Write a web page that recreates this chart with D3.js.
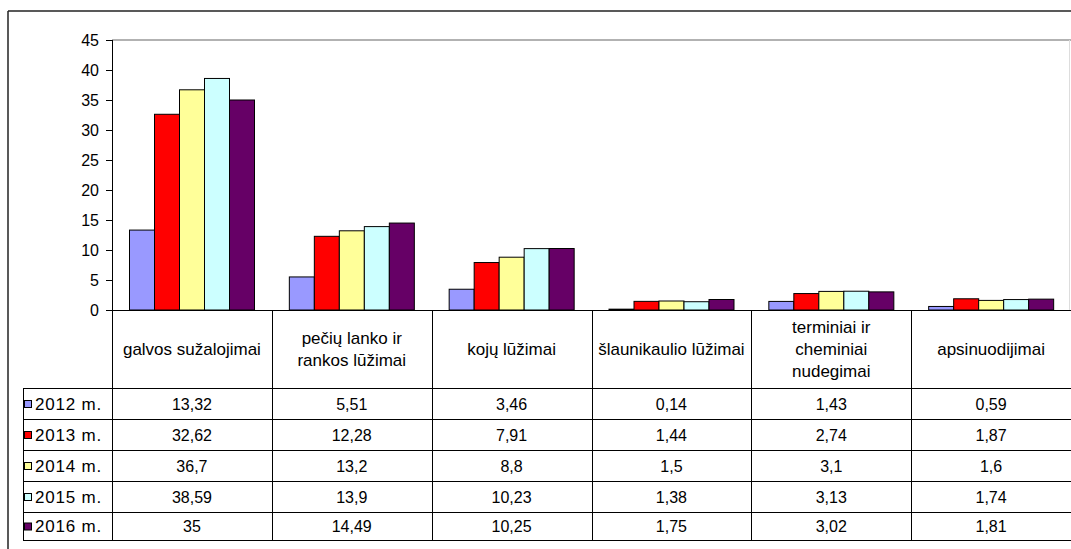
<!DOCTYPE html>
<html>
<head>
<meta charset="utf-8">
<script src="https://cdn.jsdelivr.net/npm/d3@7"></script>
<style>
  html, body { margin: 0; padding: 0; background: #fff; }
  svg { display: block; }
  text { font-family: "Liberation Sans", Arial, sans-serif; fill: #000; }
</style>
</head>
<body>
<svg id="chart" width="1071" height="549"></svg>
<script>
// ---- data ----
const categories = [
  "galvos sužalojimai",
  "pečių lanko ir rankos lūžimai",
  "kojų lūžimai",
  "šlaunikaulio lūžimai",
  "terminiai ir cheminiai nudegimai",
  "apsinuodijimai"
];
const categoryLines = [
  ["galvos sužalojimai"],
  ["pečių lanko ir", "rankos lūžimai"],
  ["kojų lūžimai"],
  ["šlaunikaulio lūžimai"],
  ["terminiai ir", "cheminiai", "nudegimai"],
  ["apsinuodijimai"]
];
const years = ["2012 m.", "2013 m.", "2014 m.", "2015 m.", "2016 m."];
const values2012 = [13.32, 5.51, 3.46, 0.14, 1.43, 0.59];
const values2013 = [32.62, 12.28, 7.91, 1.44, 2.74, 1.87];
const values2014 = [36.7, 13.2, 8.8, 1.5, 3.1, 1.6];
const values2015 = [38.59, 13.9, 10.23, 1.38, 3.13, 1.74];
const values2016 = [35, 14.49, 10.25, 1.75, 3.02, 1.81];
const seriesValues = [values2012, values2013, values2014, values2015, values2016];
const colors = ["#9999FF", "#FF0000", "#FFFF99", "#CCFFFF", "#660066"];
const yTicks = [0, 5, 10, 15, 20, 25, 30, 35, 40, 45];

// ---- layout ----
const svg = d3.select("#chart");
const plotLeft = 112, plotRight = 1071, plotTop = 40, plotBottom = 310;
const tableLeft = 23;
const headerBottom = 388;
const rowLines = [388, 419, 450, 481, 512, 540];

const x = d3.scaleBand().domain(d3.range(categories.length)).range([plotLeft, plotRight]).paddingInner(0).paddingOuter(0);
const xs = d3.scaleBand().domain(d3.range(years.length)).range([17, 142]).padding(0);
const y = d3.scaleLinear().domain([0, 45]).range([plotBottom, plotTop]);

// outer frame
svg.append("line").attr("x1", 8).attr("x2", 1071).attr("y1", 11).attr("y2", 11)
  .attr("stroke", "#222").attr("stroke-width", 1.5);
svg.append("line").attr("x1", 8).attr("x2", 8).attr("y1", 11).attr("y2", 549)
  .attr("stroke", "#222").attr("stroke-width", 1.5);

// plot area border
svg.append("line").attr("x1", plotLeft).attr("x2", plotRight).attr("y1", plotTop).attr("y2", plotTop)
  .attr("stroke", "#999").attr("stroke-width", 1.5);
svg.append("line").attr("x1", 1069.5).attr("x2", 1069.5).attr("y1", plotTop).attr("y2", plotBottom)
  .attr("stroke", "#ddd").attr("stroke-width", 1);

// y axis
const yAxis = d3.axisLeft(y).tickValues(yTicks).tickSize(6).tickPadding(7).tickFormat(d3.format("d"));
const ga = svg.append("g").attr("transform", `translate(${plotLeft},0)`).call(yAxis);
ga.select(".domain").remove();
ga.selectAll(".tick line").attr("stroke", "#000");
ga.selectAll(".tick text").attr("font-size", 16).attr("font-family", '"Liberation Sans", Arial, sans-serif').attr("fill", "#000");
svg.append("line").attr("x1", plotLeft + 0.5).attr("x2", plotLeft + 0.5).attr("y1", plotTop).attr("y2", rowLines[rowLines.length - 1])
  .attr("stroke", "#000");

// bars
const groups = svg.append("g").selectAll("g").data(seriesValues).join("g")
  .attr("fill", (d, i) => colors[i]);
groups.each(function(vals, si) {
  d3.select(this).selectAll("rect").data(vals).join("rect")
    .attr("x", (d, ci) => x(ci) + xs(si) + 0.5)
    .attr("width", xs.bandwidth())
    .attr("y", d => y(d))
    .attr("height", d => y(0) - y(d))
    .attr("stroke", "#000").attr("stroke-width", 1);
});

// zero line
svg.append("line").attr("x1", plotLeft - 6).attr("x2", plotRight).attr("y1", plotBottom + 0.5).attr("y2", plotBottom + 0.5)
  .attr("stroke", "#000");

// table grid
const tbl = svg.append("g");
categories.forEach((c, i) => {
  if (i > 0) {
    tbl.append("line").attr("x1", Math.round(x(i)) + 0.5).attr("x2", Math.round(x(i)) + 0.5)
      .attr("y1", plotBottom).attr("y2", rowLines[rowLines.length - 1]).attr("stroke", "#000");
  }
});
rowLines.forEach(ry => {
  tbl.append("line").attr("x1", tableLeft).attr("x2", plotRight).attr("y1", ry + 0.5).attr("y2", ry + 0.5)
    .attr("stroke", "#000");
});
tbl.append("line").attr("x1", tableLeft + 0.5).attr("x2", tableLeft + 0.5)
  .attr("y1", headerBottom).attr("y2", rowLines[rowLines.length - 1]).attr("stroke", "#000");

// header labels
const headerMid = 349, lineH = 22;
categoryLines.forEach((lines, i) => {
  const cx = x(i) + x.bandwidth() / 2;
  const t = svg.append("text").attr("text-anchor", "middle").attr("font-size", 17);
  lines.forEach((ln, k) => {
    t.append("tspan").attr("x", cx)
      .attr("y", headerMid + (k - (lines.length - 1) / 2) * lineH)
      .attr("dy", "0.35em").text(ln);
  });
});

// data rows & legend
years.forEach((yr, si) => {
  const cy = (rowLines[si] + rowLines[si + 1]) / 2 + 0.5;
  svg.append("rect").attr("x", 24.5).attr("y", cy - 3.5).attr("width", 7).attr("height", 7)
    .attr("fill", colors[si]).attr("stroke", "#000").attr("stroke-width", 1);
  svg.append("text").attr("x", 35).attr("y", cy).attr("dy", "0.35em").attr("font-size", 17)
    .attr("letter-spacing", 0.8).text(yr);
  seriesValues[si].forEach((v, ci) => {
    svg.append("text").attr("x", x(ci) + x.bandwidth() / 2).attr("y", cy).attr("dy", "0.35em")
      .attr("text-anchor", "middle").attr("font-size", 16)
      .text(String(v).replace(".", ","));
  });
});
</script>
</body>
</html>
